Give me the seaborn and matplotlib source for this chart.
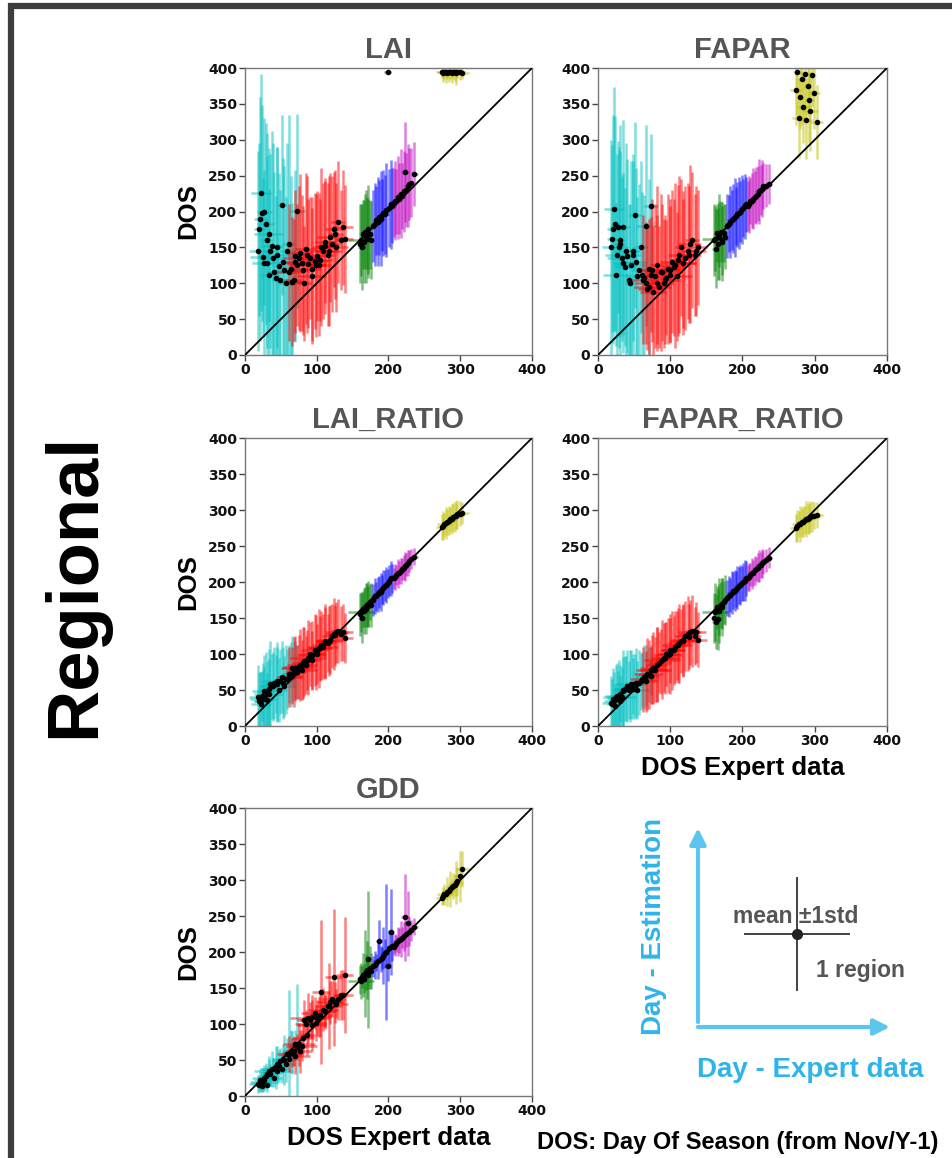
import matplotlib
matplotlib.use("Agg")
import numpy as np
import pandas as pd
import matplotlib.pyplot as plt
import seaborn as sns

# ---------------------------------------------------------------------------
# Region groups (one colour per group) and number of regions in each
# ---------------------------------------------------------------------------
groups = ["cyan", "red", "green", "blue", "magenta", "yellow"]
group_colors = ["#00bfbf", "#ff0000", "#008000", "#0000ff", "#bf00bf", "#bfbf00"]
group_sizes = [32, 36, 12, 14, 14, 14]

# Expert-data day of season (mean and std per region)
expert_dos = [
    20, 22, 24, 25, 27, 29, 31, 33, 35, 37, 40, 43, 45, 48, 51, 54, 57, 61, 66, 73,
    18, 21, 26, 30, 34, 39, 44, 49, 53, 59, 64, 70,
    66, 70, 73, 76, 79, 82, 85, 88, 91, 94, 97, 100, 103, 106, 109, 112, 115, 118, 121, 124, 127, 130, 134, 139,
    62, 68, 75, 81, 87, 93, 99, 105, 111, 117, 126, 136,
    160, 162, 163, 165, 166, 167, 168, 170, 171, 172, 174, 176,
    178, 181, 183, 185, 187, 189, 191, 193, 195, 197, 199, 201, 203, 205,
    207, 209, 211, 213, 215, 217, 219, 221, 223, 225, 227, 229, 232, 236,
    274, 276, 278, 280, 282, 284, 286, 288, 290, 292, 294, 296, 299, 303,
]
expert_sd = [
    8, 14, 6, 18, 10, 12, 7, 20, 9, 15, 11, 6, 22, 10, 8, 16, 12, 9, 14, 10,
    12, 9, 16, 8, 13, 18, 7, 11, 15, 10, 13, 8,
    15, 20, 12, 18, 22, 10, 16, 25, 14, 12, 19, 11, 17, 13, 21, 15, 9, 18, 14, 12, 16, 10, 8, 12,
    18, 12, 22, 15, 10, 20, 14, 16, 12, 18, 11, 14,
    4, 18, 5, 3, 4, 6, 3, 4, 5, 3, 4, 3,
    4, 5, 3, 6, 4, 5, 3, 4, 6, 4, 5, 3, 4, 5,
    4, 5, 3, 6, 4, 5, 3, 4, 6, 4, 5, 3, 4, 5,
    8, 6, 10, 5, 7, 9, 6, 8, 5, 7, 10, 6, 8, 9,
]

# Estimated day of season per method (mean and std per region)
lai_dos = [
    175, 226, 198, 137, 200, 183, 128, 168, 145, 152, 115, 107, 140, 124, 209, 118, 100, 155, 102, 201,
    145, 190, 128, 160, 112, 135, 150, 105, 130, 145, 120, 138,
    102, 130, 125, 142, 128, 100, 148, 127, 135, 120, 131, 138, 126, 150, 145, 158, 140, 164, 155, 175, 150, 185, 160, 162,
    115, 105, 135, 118, 140, 110, 125, 132, 152, 145, 168, 178,
    155, 160, 150, 168, 158, 172, 165, 170, 162, 175, 168, 160,
    180, 182, 188, 186, 192, 190, 195, 198, 196, 202, 395, 205, 210, 208,
    212, 215, 214, 220, 218, 225, 222, 228, 255, 230, 236, 238, 240, 252,
    394, 393, 395, 394, 393, 394, 395, 393, 394, 394, 393, 395, 394, 393,
]
lai_sd = [
    120, 165, 150, 110, 130, 140, 150, 120, 135, 160, 140, 115, 150, 130, 125, 145, 120, 180, 110, 135,
    140, 170, 130, 150, 120, 160, 140, 125, 145, 150, 130, 120,
    90, 100, 85, 110, 95, 80, 105, 90, 85, 100, 95, 90, 100, 110, 95, 85, 100, 90, 95, 80, 90, 85, 70, 75,
    95, 85, 100, 90, 110, 95, 100, 85, 95, 105, 90, 80,
    55, 50, 60, 48, 58, 52, 65, 50, 55, 62, 48, 54,
    50, 58, 48, 62, 52, 66, 50, 60, 55, 65, 2, 54, 62, 52,
    48, 55, 45, 58, 50, 62, 46, 56, 70, 52, 58, 50, 48, 45,
    8, 12, 10, 15, 9, 13, 11, 14, 10, 12, 16, 9, 11, 8,
]

fapar_dos = [
    162, 204, 183, 112, 178, 150, 160, 135, 178, 123, 138, 105, 125, 145, 195, 110, 118, 112, 180, 208,
    150, 175, 140, 155, 128, 145, 100, 140, 130, 150, 108, 120,
    100, 95, 112, 88, 110, 125, 95, 115, 100, 108, 120, 112, 130, 125, 110, 140, 150, 128, 135, 145, 155, 160, 140, 150,
    105, 92, 118, 100, 115, 105, 118, 122, 132, 128, 140, 145,
    160, 162, 148, 170, 155, 168, 165, 172, 160, 158, 170, 165,
    180, 183, 185, 188, 190, 192, 194, 196, 198, 200, 203, 205, 207, 210,
    208, 210, 214, 215, 218, 220, 222, 225, 228, 230, 232, 235, 236, 238,
    370, 395, 330, 360, 385, 345, 392, 328, 375, 355, 340, 390, 365, 325,
]
fapar_sd = [
    130, 170, 150, 100, 120, 140, 160, 115, 150, 110, 135, 105, 145, 125, 130, 110, 120, 115, 140, 100,
    150, 160, 140, 130, 125, 150, 110, 140, 130, 120, 115, 125,
    85, 95, 80, 90, 100, 110, 85, 95, 90, 80, 105, 95, 100, 115, 90, 110, 95, 90, 100, 95, 110, 95, 85, 80,
    90, 85, 100, 95, 110, 90, 100, 95, 105, 100, 95, 90,
    50, 45, 55, 40, 50, 45, 60, 42, 48, 55, 40, 45,
    45, 40, 50, 42, 48, 55, 40, 45, 50, 42, 48, 40, 45, 38,
    35, 40, 32, 38, 42, 36, 40, 38, 45, 35, 40, 32, 30, 28,
    50, 60, 55, 45, 65, 50, 60, 55, 40, 60, 55, 45, 50, 52,
]

lai_ratio_dos = [
    35, 30, 42, 38, 40, 48, 36, 45, 58, 55, 60, 58, 62, 50, 68, 55, 65, 72, 80, 75,
    40, 35, 48, 45, 52, 55, 58, 62, 60, 65, 72, 78,
    70, 80, 75, 85, 78, 90, 85, 95, 100, 92, 105, 100, 108, 112, 110, 118, 115, 120, 125, 128, 130, 132, 128, 122,
    68, 75, 82, 88, 92, 98, 102, 108, 115, 118, 126, 130,
    155, 158, 150, 162, 160, 165, 163, 168, 166, 170, 172, 168,
    175, 180, 180, 183, 186, 186, 190, 192, 195, 196, 198, 202, 205, 205,
    205, 207, 210, 212, 213, 215, 218, 220, 222, 224, 227, 229, 232, 235,
    276, 278, 280, 282, 283, 285, 287, 288, 290, 291, 292, 294, 295, 296,
]
lai_ratio_sd = [
    40, 45, 35, 50, 42, 55, 38, 48, 60, 45, 50, 40, 55, 45, 50, 42, 48, 40, 45, 38,
    45, 40, 50, 45, 55, 48, 52, 45, 50, 42, 45, 40,
    40, 45, 38, 50, 42, 48, 40, 52, 45, 40, 50, 42, 55, 48, 45, 52, 40, 48, 45, 50, 42, 45, 38, 35,
    42, 48, 45, 50, 42, 48, 52, 45, 50, 48, 42, 40,
    30, 28, 35, 25, 32, 28, 35, 30, 28, 32, 25, 30,
    22, 25, 20, 24, 22, 26, 20, 24, 22, 25, 20, 22, 24, 20,
    15, 18, 14, 20, 16, 18, 15, 17, 20, 16, 18, 15, 14, 12,
    18, 20, 16, 22, 18, 20, 17, 22, 19, 21, 18, 20, 17, 15,
]

fapar_ratio_dos = [
    30, 35, 28, 40, 38, 42, 35, 40, 50, 52, 55, 50, 58, 52, 55, 50, 60, 65, 70, 78,
    32, 38, 42, 45, 48, 52, 55, 58, 60, 62, 68, 72,
    62, 72, 70, 80, 78, 85, 88, 92, 95, 100, 98, 105, 105, 110, 112, 115, 118, 120, 125, 128, 130, 132, 125, 120,
    65, 72, 78, 85, 90, 95, 100, 105, 112, 118, 124, 130,
    150, 158, 145, 165, 148, 162, 160, 168, 170, 165, 172, 175,
    178, 180, 182, 185, 188, 188, 190, 192, 195, 196, 198, 200, 202, 205,
    205, 207, 210, 212, 213, 216, 218, 220, 222, 224, 226, 228, 230, 234,
    275, 278, 280, 281, 283, 284, 286, 287, 288, 289, 290, 291, 292, 293,
]
fapar_ratio_sd = [
    35, 40, 30, 45, 38, 50, 35, 42, 55, 45, 50, 40, 48, 42, 45, 40, 45, 38, 42, 35,
    38, 42, 45, 40, 48, 45, 50, 42, 48, 40, 45, 38,
    42, 48, 40, 50, 45, 52, 42, 55, 48, 45, 52, 45, 55, 50, 48, 55, 45, 50, 48, 52, 45, 50, 40, 38,
    45, 50, 48, 52, 45, 50, 55, 48, 52, 50, 45, 42,
    35, 40, 38, 30, 42, 35, 45, 32, 35, 40, 30, 35,
    25, 28, 24, 30, 26, 28, 25, 30, 26, 28, 24, 26, 28, 24,
    18, 20, 16, 22, 18, 20, 17, 20, 22, 18, 20, 17, 16, 15,
    20, 22, 18, 25, 20, 22, 19, 25, 21, 23, 20, 22, 19, 18,
]

gdd_dos = [
    15, 18, 14, 20, 22, 28, 15, 35, 30, 38, 25, 40, 35, 42, 38, 50, 45, 52, 60, 70,
    16, 22, 25, 30, 32, 38, 45, 48, 52, 58, 62, 72,
    60, 55, 68, 62, 70, 105, 100, 108, 105, 110, 115, 108, 110, 145, 120, 118, 125, 130, 135, 165, 128, 135, 140, 168,
    58, 62, 72, 80, 85, 98, 102, 112, 118, 125, 130, 140,
    162, 160, 165, 168, 163, 170, 172, 175, 168, 190, 178, 173,
    180, 182, 185, 188, 215, 190, 192, 195, 198, 200, 180, 205, 228, 208,
    207, 210, 212, 215, 216, 218, 220, 222, 248, 225, 240, 228, 230, 235,
    275, 278, 280, 281, 284, 285, 288, 290, 292, 293, 296, 298, 305, 315,
]
gdd_sd = [
    10, 12, 8, 15, 12, 18, 10, 20, 15, 25, 12, 30, 18, 22, 20, 35, 25, 95, 30, 85,
    12, 15, 18, 12, 20, 15, 25, 18, 20, 22, 30, 20,
    20, 25, 18, 30, 22, 28, 20, 35, 25, 30, 22, 25, 28, 100, 30, 25, 20, 30, 25, 95, 20, 30, 35, 80,
    25, 20, 30, 22, 28, 35, 25, 30, 22, 60, 28, 35,
    20, 25, 15, 30, 20, 60, 25, 40, 20, 95, 30, 25,
    15, 20, 12, 25, 30, 18, 15, 40, 20, 95, 20, 25, 60, 20,
    10, 15, 12, 20, 18, 25, 15, 20, 60, 18, 45, 20, 15, 12,
    10, 12, 15, 8, 20, 10, 25, 12, 18, 15, 30, 20, 35, 25,
]

panel_titles = ["LAI", "FAPAR", "LAI_RATIO", "FAPAR_RATIO", "GDD"]
tick_values = [0, 50, 100, 150, 200, 250, 300, 350, 400]
x_tick_values = [0, 100, 200, 300, 400]

# ---------------------------------------------------------------------------
# Style
# ---------------------------------------------------------------------------
sns.set_theme(style="white", color_codes=False)
plt.rcParams["font.family"] = ["Liberation Sans", "DejaVu Sans"]
plt.rcParams["font.weight"] = "bold"

W, H = 953, 1158
fig = plt.figure(figsize=(W / 100, H / 100), dpi=100)
fig.patch.set_facecolor("white")


def box(left, top, right, bottom):
    """Axes rectangle given in pixel edges (origin at top-left)."""
    return [left / W, 1 - bottom / H, (right - left) / W, (bottom - top) / H]


region_group = np.repeat(groups, group_sizes)
estimates = [
    (lai_dos, lai_sd), (fapar_dos, fapar_sd), (lai_ratio_dos, lai_ratio_sd),
    (fapar_ratio_dos, fapar_ratio_sd), (gdd_dos, gdd_sd),
]
boxes = [
    box(245, 68, 532, 355), box(598, 68, 887, 355),
    box(245, 438, 532, 726), box(598, 438, 887, 726),
    box(245, 808, 532, 1096),
]
show_ylabel = [True, False, True, False, True]
show_xlabel = [False, False, False, True, True]

GRAY_TITLE = "#555555"
tick_font = dict(family="DejaVu Sans", weight="bold", size=10)

for title, (est, est_sd), rect, ylab, xlab in zip(
        panel_titles, estimates, boxes, show_ylabel, show_xlabel):
    ax = fig.add_axes(rect)
    df = pd.DataFrame({
        "group": region_group,
        "expert": expert_dos,
        "expert_sd": expert_sd,
        "estimate": est,
        "estimate_sd": est_sd,
    })
    for g, col in zip(groups, group_colors):
        sub = df[df["group"] == g]
        ax.errorbar(sub["expert"], sub["estimate"],
                    xerr=sub["expert_sd"], yerr=sub["estimate_sd"],
                    fmt="none", ecolor=col, elinewidth=1.8, alpha=0.5,
                    capsize=0, zorder=2)
    ax.plot([0, 400], [0, 400], color="black", lw=1.3, zorder=3)
    sns.scatterplot(data=df, x="expert", y="estimate", color="black",
                    s=16, linewidth=0, ax=ax, zorder=4, legend=False)

    ax.set_xlim(0, 400)
    ax.set_ylim(0, 400)
    ax.set_xticks(x_tick_values)
    ax.set_yticks(tick_values)
    ax.set_xticklabels([str(v) for v in x_tick_values], fontdict=tick_font)
    ax.set_yticklabels([str(v) for v in tick_values], fontdict=tick_font)
    ax.tick_params(axis="both", direction="out", length=4, width=1,
                   color="#444444", labelcolor="#111111", pad=1.5,
                   bottom=True, left=True)
    for sp in ax.spines.values():
        sp.set_visible(True)
        sp.set_color("#777777")
        sp.set_linewidth(1)

    ax.set_title(title, fontsize=21, fontweight="bold", color=GRAY_TITLE,
                 family="Liberation Sans", pad=7)
    ax.set_xlabel("DOS Expert data" if xlab else "", fontsize=18.5,
                  fontweight="bold", color="black", labelpad=6)
    ax.set_ylabel("DOS" if ylab else "", fontsize=18.5, fontweight="bold",
                  color="black", labelpad=6)

# ---------------------------------------------------------------------------
# Overlay canvas: frame, side label and reading key
# ---------------------------------------------------------------------------
canvas = fig.add_axes([0, 0, 1, 1], zorder=-1)
canvas.set_xlim(0, W)
canvas.set_ylim(H, 0)
canvas.axis("off")

canvas.plot([11, 11, W + 10], [H + 10, 6, 6], color="#3d3d3d", lw=4.5,
            solid_joinstyle="miter", solid_capstyle="butt")

canvas.text(75, 585, "Regional", rotation=90, fontsize=52, fontweight="bold",
            ha="center", va="center", color="black")

ARROW = "#5bc5ee"
TEXT_BLUE = "#2fb4ea"
canvas.annotate("", xy=(698, 828), xytext=(698, 1022),
                arrowprops=dict(arrowstyle="-|>", color=ARROW, lw=3,
                                mutation_scale=24, shrinkA=0, shrinkB=0))
canvas.annotate("", xy=(890, 1027), xytext=(698, 1027),
                arrowprops=dict(arrowstyle="-|>", color=ARROW, lw=3,
                                mutation_scale=24, shrinkA=0, shrinkB=0))
canvas.text(654, 926, "Day - Estimation", rotation=90, fontsize=20,
            fontweight="bold", color=TEXT_BLUE, ha="center", va="center")
canvas.text(810, 1070, "Day - Expert data", fontsize=20, fontweight="bold",
            color=TEXT_BLUE, ha="center", va="center")

canvas.errorbar([797], [934], xerr=[53], yerr=[57], fmt="o", color="#222222",
                ms=7, elinewidth=1.2, capsize=0)
canvas.text(796, 923, "mean \u00b11std", fontsize=16.5, fontweight="bold",
            color="#555555", ha="center", va="baseline")
canvas.text(816, 977, "1 region", fontsize=16.5, fontweight="bold",
            color="#555555", ha="left", va="baseline")

canvas.text(537, 1142, "DOS: Day Of Season (from Nov/Y-1)", fontsize=17,
            fontweight="bold", color="black", ha="left", va="center")

fig.savefig("out.png", dpi=100, facecolor="white")
